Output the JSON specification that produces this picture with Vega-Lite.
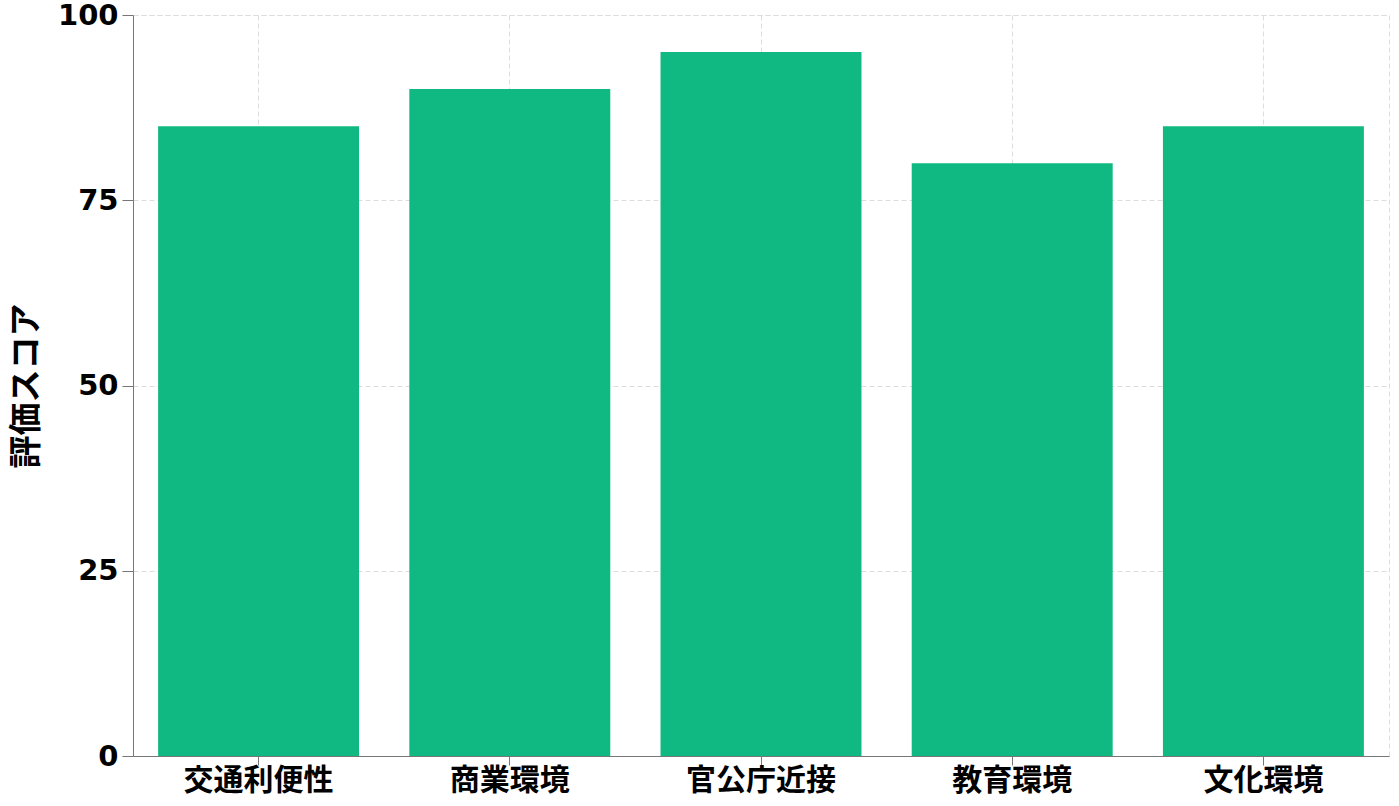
{
  "$schema": "https://vega.github.io/schema/vega-lite/v6.json",
  "width": 1256,
  "height": 741,
  "autosize": {"type": "none"},
  "padding": {"left": 133, "top": 15, "right": 10, "bottom": 50},
  "background": "white",
  "config": {
    "view": {"stroke": "#dddddd", "strokeDash": [5, 3], "strokeWidth": 1},
    "font": "Noto Sans CJK JP"
  },
  "data": {
    "values": [
      {"category": "交通利便性", "score": 85},
      {"category": "商業環境", "score": 90},
      {"category": "官公庁近接", "score": 95},
      {"category": "教育環境", "score": 80},
      {"category": "文化環境", "score": 85}
    ]
  },
  "mark": {"type": "bar", "color": "#10b981"},
  "encoding": {
    "x": {
      "field": "category",
      "type": "nominal",
      "sort": null,
      "scale": {"paddingInner": 0.2, "paddingOuter": 0.1},
      "axis": {
        "title": null,
        "labelAngle": 0,
        "labelFont": "Noto Sans CJK JP",
        "labelFontSize": 30,
        "labelFontWeight": "bold",
        "labelColor": "#000000",
        "labelPadding": 0,
        "tickSize": 9,
        "tickColor": "#777777",
        "domainColor": "#777777",
        "grid": true,
        "gridColor": "#dddddd",
        "gridDash": [5, 3]
      }
    },
    "y": {
      "field": "score",
      "type": "quantitative",
      "scale": {"domain": [0, 100]},
      "axis": {
        "title": "評価スコア",
        "titleFont": "Noto Sans CJK JP",
        "titleFontSize": 33,
        "titleFontWeight": "bold",
        "titleColor": "#000000",
        "titlePadding": 14,
        "values": [0, 25, 50, 75, 100],
        "labelFont": "DejaVu Sans",
        "labelFontSize": 29,
        "labelFontWeight": "bold",
        "labelColor": "#000000",
        "labelPadding": 4,
        "tickSize": 11,
        "tickColor": "#777777",
        "domainColor": "#777777",
        "grid": true,
        "gridColor": "#dddddd",
        "gridDash": [5, 3]
      }
    }
  }
}
